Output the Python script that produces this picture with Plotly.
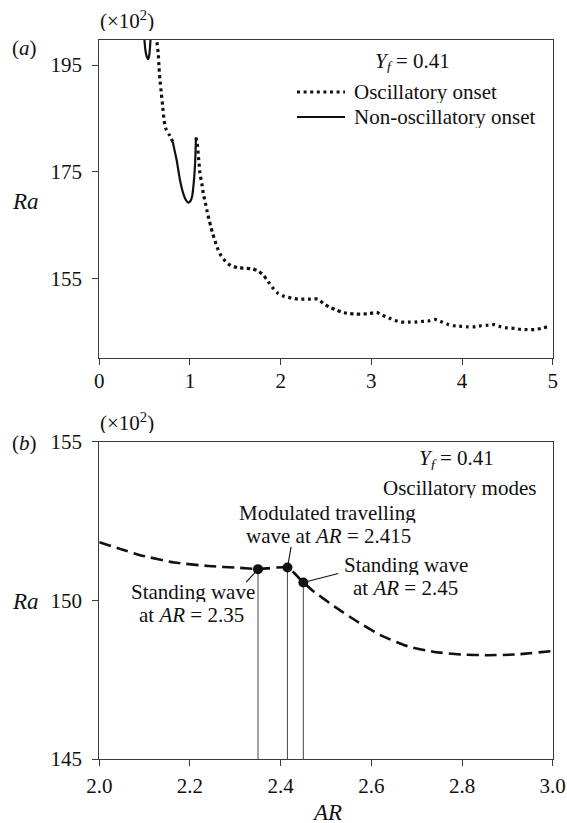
import plotly.graph_objects as go

# ---- Panel (a): onset curves for Y_f = 0.41 (Ra in units of 10^2) ----
osc_ar = [0.628, 0.633, 0.650, 0.658, 0.669, 0.684, 0.699, 0.714, 0.733, 0.772, 0.810, None,
          1.066, 1.080, 1.090, 1.100, 1.110, 1.130, 1.147, 1.170, 1.190, 1.210, 1.230, 1.250,
          1.275, 1.300, 1.330, 1.390, 1.450, 1.530, 1.610, 1.680, 1.750, 1.810, 1.860, 1.920,
          1.970, 2.040, 2.120, 2.190, 2.260, 2.330, 2.410, 2.470, 2.540, 2.610, 2.680, 2.760,
          2.830, 2.900, 2.980, 3.060, 3.120, 3.200, 3.260, 3.330, 3.410, 3.480, 3.550, 3.630,
          3.700, 3.780, 3.840, 3.910, 3.990, 4.060, 4.130, 4.210, 4.280, 4.360, 4.430, 4.500,
          4.580, 4.650, 4.720, 4.800, 4.870, 4.940]
osc_ra = [200.5, 199.7, 197.2, 194.7, 192.2, 189.7, 187.2, 184.7, 183.1, 181.9, 180.6, None,
          181.4, 180.3, 178.4, 176.6, 174.7, 172.8, 170.9, 169.1, 167.5, 166.0, 164.7, 163.4,
          162.1, 160.8, 159.6, 158.2, 157.4, 157.0, 156.9, 156.8, 156.4, 155.6, 154.4, 153.1,
          152.2, 151.6, 151.3, 151.1, 151.1, 151.1, 151.1, 150.3, 149.6, 149.1, 148.6, 148.4,
          148.3, 148.3, 148.4, 148.6, 148.1, 147.5, 147.1, 146.8, 146.8, 146.8, 146.9, 147.0,
          147.3, 146.8, 146.4, 146.1, 146.0, 145.9, 145.9, 146.1, 146.2, 146.3, 145.9, 145.7,
          145.6, 145.4, 145.4, 145.4, 145.6, 145.9]

nonosc_ar = [0.494, 0.500, 0.510, 0.525, 0.540, 0.552, 0.562, 0.568, None,
             0.810, 0.830, 0.853, 0.890, 0.926, 0.955, 0.980, 1.005, 1.025, 1.044, 1.058, 1.066]
nonosc_ra = [201.0, 199.2, 197.6, 196.5, 196.1, 197.0, 199.0, 201.0, None,
             180.6, 179.0, 177.2, 173.4, 170.9, 169.7, 169.2, 169.5, 170.5, 173.4, 177.2, 181.4]

# ---- Panel (b): oscillatory modes around AR = 2.4 ----
modes_ar = [2.00, 2.05, 2.09, 2.165, 2.24, 2.31, 2.35, 2.415, 2.45, 2.47, 2.52, 2.57,
            2.62, 2.68, 2.74, 2.80, 2.857, 2.916, 3.00]
modes_ra = [151.83, 151.60, 151.42, 151.19, 151.08, 151.02, 150.98, 151.03, 150.56, 150.31,
            149.79, 149.32, 148.90, 148.55, 148.37, 148.29, 148.27, 148.29, 148.40]
marked_ar = [2.35, 2.415, 2.45]
marked_ra = [150.98, 151.03, 150.56]

a_xticks = [0, 1, 2, 3, 4, 5]
a_yticks = [155, 175, 195]
b_xticks = [2.0, 2.2, 2.4, 2.6, 2.8, 3.0]
b_yticks = [145, 150, 155]
a_yrange = [140, 199.7]
b_yrange = [145, 155]

FONT = "Liberation Serif, Times New Roman, serif"
INK = "#111111"
AXIS = "#3a3a3a"
W, H = 567, 823

OSC_LINE = dict(color=INK, width=3.2, dash="3px,3.6px")
NONOSC_LINE = dict(color=INK, width=2.2)

fig = go.Figure()

fig.add_trace(go.Scatter(
    x=osc_ar, y=osc_ra, mode="lines", name="Oscillatory onset", showlegend=False,
    line=dict(shape="spline", smoothing=0.6, **OSC_LINE),
    connectgaps=False, xaxis="x", yaxis="y"))
fig.add_trace(go.Scatter(
    x=nonosc_ar, y=nonosc_ra, mode="lines", name="Non-oscillatory onset", showlegend=False,
    line=dict(shape="spline", smoothing=0.6, **NONOSC_LINE),
    connectgaps=False, xaxis="x", yaxis="y"))

# drop lines from each marked mode down to the bottom axis
drop_x, drop_y = [], []
for a, r in zip(marked_ar, marked_ra):
    drop_x += [a, a, None]
    drop_y += [r, b_yrange[0], None]
fig.add_trace(go.Scatter(
    x=drop_x, y=drop_y, mode="lines", showlegend=False,
    line=dict(color="#555555", width=1.1), xaxis="x2", yaxis="y2"))
fig.add_trace(go.Scatter(
    x=modes_ar, y=modes_ra, mode="lines", showlegend=False,
    line=dict(color=INK, width=2.6, dash="12px,6px", shape="spline", smoothing=0.5),
    xaxis="x2", yaxis="y2"))
fig.add_trace(go.Scatter(
    x=marked_ar, y=marked_ra, mode="markers", showlegend=False,
    marker=dict(color=INK, size=10), xaxis="x2", yaxis="y2"))

axis_common = dict(
    showline=True, mirror=True, linecolor=AXIS, linewidth=1.2,
    ticks="outside", ticklen=6, tickwidth=1.1, tickcolor=AXIS,
    showgrid=False, zeroline=False, automargin=False,
    tickfont=dict(family=FONT, size=21, color=INK),
)

x_dom = [99.3 / W, 552.7 / W]
fig.update_layout(
    width=W, height=H, autosize=False,
    margin=dict(l=0, r=0, t=0, b=0, pad=0, autoexpand=False),
    paper_bgcolor="white", plot_bgcolor="white",
    font=dict(family=FONT, size=21, color=INK),
    showlegend=False,
    xaxis=dict(domain=x_dom, range=[0, 5], tickvals=a_xticks, anchor="y",
               ticklabelstandoff=-3, **axis_common),
    yaxis=dict(domain=[1 - 358.3 / H, 1 - 40 / H], range=a_yrange, tickvals=a_yticks,
               anchor="x", ticklabelstandoff=6, **axis_common),
    xaxis2=dict(domain=x_dom, range=[2, 3], tickvals=b_xticks, tickformat=".1f",
                anchor="y2", ticklabelstandoff=2, **axis_common),
    yaxis2=dict(domain=[1 - 759 / H, 1 - 441.5 / H], range=b_yrange, tickvals=b_yticks,
                anchor="x2", ticklabelstandoff=6, **axis_common),
)

ann = []
shapes = []


def paper_text(text, px, py, size=21, xanchor="center"):
    ann.append(dict(text=text, x=px / W, y=1 - py / H, xref="paper", yref="paper",
                    showarrow=False, xanchor=xanchor, yanchor="middle", height=size + 1,
                    font=dict(family=FONT, size=size, color=INK)))


def b_text(text, x, y):
    ann.append(dict(text=text, x=x, y=y, xref="x2", yref="y2", showarrow=False,
                    xanchor="center", yanchor="middle", height=21,
                    font=dict(family=FONT, size=21, color=INK)))


# panel labels, scale factors and axis titles
paper_text("(<i>a</i>)", 24, 48)
paper_text("(<i>b</i>)", 24, 443)
paper_text("(×10<sup>2</sup>)", 127, 20)
paper_text("(×10<sup>2</sup>)", 127, 422)
paper_text("<i>Ra</i>", 25, 201, size=23)
paper_text("<i>Ra</i>", 25, 601, size=23)
paper_text("<i>AR</i>", 327, 812, size=23)

# panel (a) key
paper_text("<i>Y<sub>f</sub></i> = 0.41", 412, 62)
key_rows = [("Oscillatory onset", OSC_LINE, 92), ("Non-oscillatory onset", NONOSC_LINE, 117)]
for label, style, py in key_rows:
    shapes.append(dict(type="line", xref="paper", yref="paper",
                       x0=297 / W, x1=345 / W, y0=1 - py / H, y1=1 - py / H,
                       line=style))
    paper_text(label, 352, py, xanchor="left")

# panel (b) notes
b_text("<i>Y<sub>f</sub></i> = 0.41", 2.788, 154.42)
b_text("Oscillatory modes", 2.795, 153.56)
b_text("Standing wave", 2.206, 150.27)
b_text("at <i>AR</i> = 2.35", 2.204, 149.54)
b_text("Modulated travelling", 2.503, 152.765)
b_text("wave at <i>AR</i> = 2.415", 2.506, 152.03)
b_text("Standing wave", 2.677, 151.135)
b_text("at <i>AR</i> = 2.45", 2.675, 150.40)

# short leader lines from the notes to the marked modes (offsets in axis units)
leader_dx = [-0.026, 0.008, 0.077]
leader_dy = [-0.41, 0.65, 0.28]
for a, r, dx, dy in zip(marked_ar, marked_ra, leader_dx, leader_dy):
    shapes.append(dict(type="line", xref="x2", yref="y2", layer="below",
                       x0=a, y0=r, x1=a + dx, y1=r + dy,
                       line=dict(color=INK, width=1.1)))

fig.update_layout(annotations=ann, shapes=shapes)

fig.write_html("out.html", post_script="document.body.style.margin='0px';")
